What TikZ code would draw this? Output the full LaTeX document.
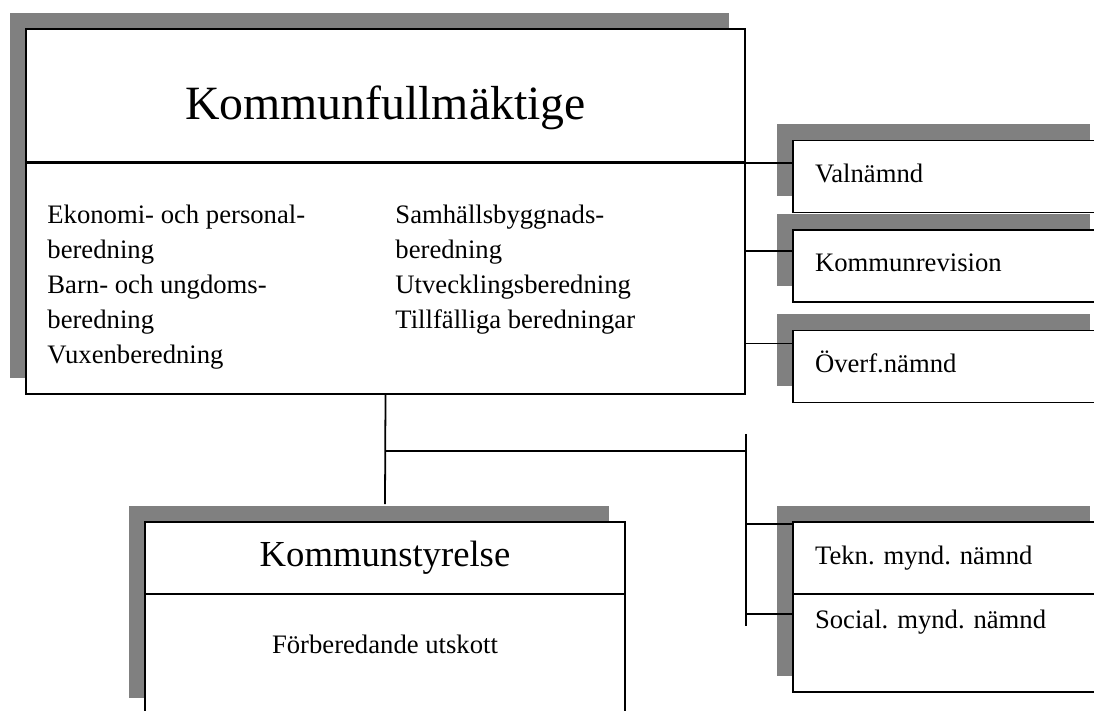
\documentclass[tikz,border=0pt]{standalone}
\usepackage{fontspec}
\setmainfont{Liberation Serif}
\usepackage{xcolor}
\usetikzlibrary{shadows, calc}
\definecolor{shadowgray}{RGB}{128,128,128}

\begin{document}
\frenchspacing
\begin{tikzpicture}[
    x=0.45pt, y=-0.45pt,
    % Node styles
    shadowbox/.style={rectangle, draw=black, line width=0.8pt, fill=white, inner sep=0pt, drop shadow={shadow xshift=-7.2pt, shadow yshift=7.2pt, fill=shadowgray, opacity=1}},
    mainpart/.style={shadowbox, minimum width=323.55pt},
    styrpart/.style={shadowbox, minimum width=216pt, font=\fontsize{12pt}{14pt}\selectfont},
    smallbox/.style={shadowbox, minimum height=32.4pt, text width=121pt, inner xsep=9.9pt, align=left, font=\fontsize{12pt}{14pt}\selectfont},
    listtext/.style={anchor=north west, inner sep=0pt, align=left, font=\fontsize{12pt}{15.75pt}\selectfont},
    link/.style={line width=0.8pt}
]

% Page frame (right-hand boxes run off the page)
\useasboundingbox (0,0) rectangle (1094,711);
\clip (0,0) rectangle (1094,711);

% KOMMUNFULLMAKTIGE
\node[mainpart, minimum height=104.4pt] (kfbody) at (385.5,278) {};
\node[mainpart, minimum height=59.85pt] (kftitle) at (385.5,95.5) {};
\node[font=\fontsize{21.5pt}{26pt}\selectfont, anchor=base] (kfname) at (385.5,120) {Kommunfullmäktige};
\node[listtext] (leftlist) at (47,205) {Ekonomi- och personal-\\beredning\\Barn- och ungdoms-\\beredning\\Vuxenberedning};
\node[listtext] (rightlist) at (395,205) {Samhällsbyggnads-\\beredning\\Utvecklingsberedning\\Tillfälliga beredningar};

% KOMMUNSTYRELSE
\node[styrpart, minimum height=54pt, text depth=9pt] (ksbody) at (385,654) {Förberedande utskott};
\node[styrpart, minimum height=32.4pt, font=\fontsize{16.5pt}{20pt}\selectfont] (kstitle) at (385,558) {Kommunstyrelse};

% Side boxes
\node[smallbox, text depth=3pt] (val) at (949.5,176.5) {Valnämnd};
\node[smallbox, text depth=3pt] (rev) at (949.5,266) {Kommunrevision};
\node[smallbox, text depth=4pt] (overf) at (949.5,366.5) {Överf.nämnd};
\node[smallbox, minimum height=44.1pt, text depth=21.7pt] (social) at (949.5,643) {Social. mynd. nämnd};
\node[smallbox] (tekn) at (949.5,558) {Tekn. mynd. nämnd};

% Join points
\coordinate (revjoin) at ($(rev.north west)+(0,22)$);
\coordinate (overfjoin) at ($(overf.north west)+(0,14)$);
\coordinate (teknjoin) at ($(tekn.north west)+(0,3)$);
\coordinate (socialjoin) at ($(social.north west)+(0,21)$);
\coordinate (kstop) at ($(kstitle.north)+(0,-17)$);
\coordinate (fork) at ($(kfbody.south)+(0,56)$);
\coordinate (bustop) at ($(kfbody.south east)+(0,39)$);
\coordinate (busend) at ($(bustop)+(0,192)$);

% Connectors
\draw[link] (kftitle.south west) -- (kftitle.south west -| val.west);
\draw[link] (revjoin) -- (revjoin -| kfbody.east);
\draw[link] (overfjoin) -- (overfjoin -| kfbody.east);
\draw[link] (kfbody.south) -- (kstop);
\draw[link] (fork) -- (fork -| kfbody.east);
\draw[link] (bustop) -- (busend);
\draw[link] (teknjoin) -- (teknjoin -| bustop);
\draw[link] (socialjoin) -- (socialjoin -| bustop);

\end{tikzpicture}
\end{document}
